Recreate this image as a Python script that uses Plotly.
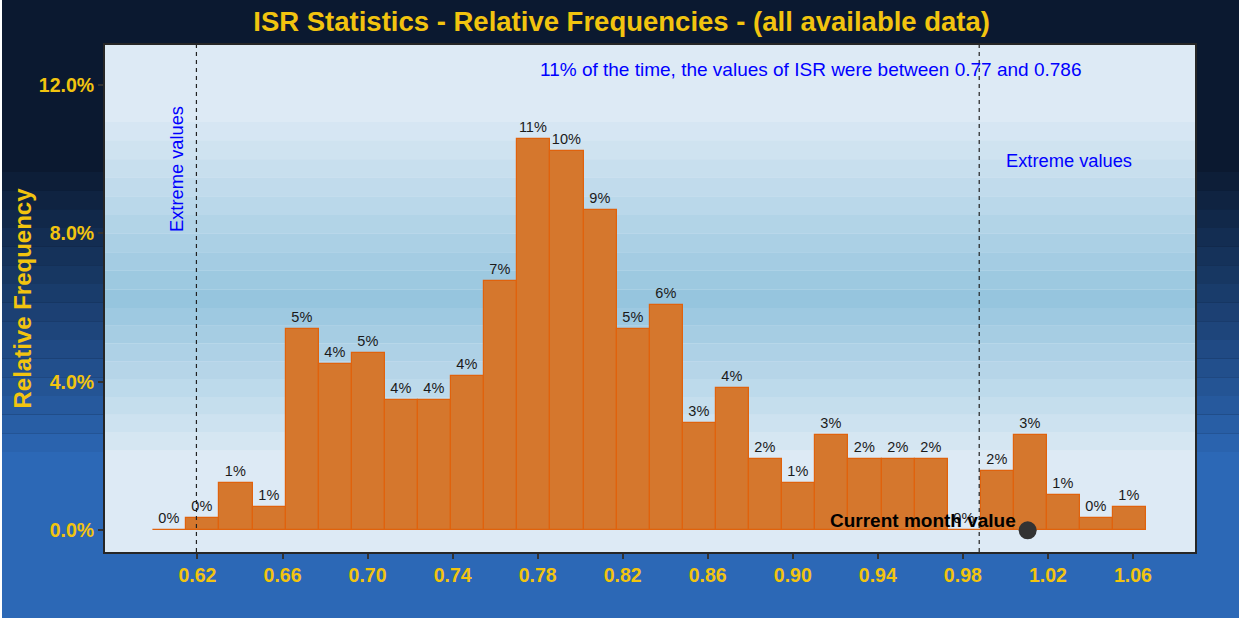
import plotly.graph_objects as go

# ---------------- data ----------------
bin_edges = [0.5992, 0.6148, 0.6303, 0.6459, 0.6615, 0.6771, 0.6926, 0.7082,
             0.7238, 0.7393, 0.7549, 0.7705, 0.7860, 0.8016, 0.8172, 0.8328,
             0.8483, 0.8639, 0.8795, 0.8950, 0.9106, 0.9262, 0.9418, 0.9573,
             0.9729, 0.9885, 1.0040, 1.0196, 1.0352, 1.0507, 1.0663]
rel_freq_pct = [0.00, 0.32, 1.28, 0.64, 5.43, 4.47, 4.79, 3.51, 3.51, 4.15,
                6.71, 10.54, 10.22, 8.63, 5.43, 6.07, 2.88, 3.83, 1.92, 1.28,
                2.56, 1.92, 1.92, 1.92, 0.00, 1.60, 2.56, 0.96, 0.32, 0.64]
bar_labels = [f"{round(v + 1e-9)}%" for v in rel_freq_pct]
lower_extreme = 0.6195
upper_extreme = 0.9877
current_value = 1.0105
x_ticks = [0.62, 0.66, 0.70, 0.74, 0.78, 0.82, 0.86, 0.90, 0.94, 0.98, 1.02, 1.06]
x_tick_labels = ["0.62", "0.66", "0.70", "0.74", "0.78", "0.82", "0.86", "0.90",
                 "0.94", "0.98", "1.02", "1.06"]
y_ticks = [0, 4, 8, 12]
y_tick_labels = ["0.0%", "4.0%", "8.0%", "12.0%"]
title_text = "ISR Statistics - Relative Frequencies - (all available data)"
note_text = "11% of the time, the values of ISR were between 0.77 and 0.786"

centers = [(a + b) / 2 for a, b in zip(bin_edges[:-1], bin_edges[1:])]
widths = [b - a for a, b in zip(bin_edges[:-1], bin_edges[1:])]

# ---------------- layout geometry ----------------
W, H = 1241, 620
ML, MR, MT, MB = 105, 46, 45, 68
PW, PH = W - ML - MR, H - MT - MB


def py(p):  # pixel y -> paper y
    return (H - MB - p) / PH


def px(p):  # pixel x -> paper x
    return (p - ML) / PW


def lerp(c1, c2, t):
    return "rgb(%d,%d,%d)" % tuple(round(a + (b - a) * t) for a, b in zip(c1, c2))


shapes = []
# figure background gradient (stepped)
dark = (11, 25, 48)
bright = (44, 104, 182)
shapes.append(dict(type="rect", xref="paper", yref="paper", x0=px(2), x1=px(W - 2),
                   y0=py(H - 2), y1=py(0), fillcolor=lerp(dark, bright, 0),
                   line=dict(width=0), layer="below"))
g_top, g_bot, nb = 172, 452, 15
step = (g_bot - g_top) / nb
for i in range(nb + 1):
    y0p = g_top + i * step
    y1p = H - 2 if i == nb else y0p + step
    shapes.append(dict(type="rect", xref="paper", yref="paper", x0=px(2), x1=px(W - 2),
                       y0=py(y1p), y1=py(y0p), fillcolor=lerp(dark, bright, (i + 1) / (nb + 1)),
                       line=dict(width=0), layer="below"))

# plot panel gradient (stepped): light -> blue -> light
light = (221, 234, 245)
mid = (150, 197, 222)
shapes.append(dict(type="rect", xref="paper", yref="paper", x0=0, x1=1, y0=0, y1=1,
                   fillcolor=lerp(light, mid, 0), line=dict(width=0), layer="below"))
p_top, p_mid, p_bot = 122, 308, 468
n1, n2 = 10, 9
s1 = (p_mid - p_top) / n1
for i in range(n1):
    a = p_top + i * s1
    shapes.append(dict(type="rect", xref="paper", yref="paper", x0=0, x1=1,
                       y0=py(a + s1), y1=py(a), fillcolor=lerp(light, mid, (i + 1) / n1),
                       line=dict(width=0), layer="below"))
s2 = (p_bot - p_mid) / n2
for i in range(n2):
    a = p_mid + i * s2
    shapes.append(dict(type="rect", xref="paper", yref="paper", x0=0, x1=1,
                       y0=py(a + s2), y1=py(a), fillcolor=lerp(mid, light, (i + 1) / n2),
                       line=dict(width=0), layer="below"))

# extreme value lines
for xv in (lower_extreme, upper_extreme):
    shapes.append(dict(type="line", xref="x", yref="paper", x0=xv, x1=xv, y0=0, y1=1,
                       line=dict(color="#222222", width=1.2, dash="4px,4px"), layer="above"))

fig = go.Figure()
fig.add_trace(go.Bar(
    x=centers, y=rel_freq_pct, width=widths,
    marker=dict(color="#d5772d", line=dict(color="#e0620c", width=1.2)),
    text=bar_labels, textposition="outside", cliponaxis=False, constraintext="none",
    textfont=dict(family="Liberation Sans, Arial", size=14.5, color="#1a1a1a"),
    hoverinfo="skip", showlegend=False,
))
fig.add_trace(go.Scatter(
    x=[current_value], y=[0], mode="markers",
    marker=dict(size=18, color="#333333"), showlegend=False, hoverinfo="skip", cliponaxis=False,
))

gold = "#f2c40f"
annotations = [
    dict(x=-0.0761, y=0.5, xref="paper", yref="paper", text="Relative Frequency",
         textangle=-90, showarrow=False, xanchor="center", yanchor="middle",
         font=dict(size=24, color=gold, weight="bold")),
    dict(x=0.9084, y=12.43, xref="x", yref="y", text=note_text, showarrow=False,
         font=dict(size=19, color="#0000ff")),
    dict(x=1.0297, y=9.96, xref="x", yref="y", text="Extreme values", showarrow=False,
         font=dict(size=18.3, color="#0000ff")),
    dict(x=0.6104, y=9.74, xref="x", yref="y", text="Extreme values", showarrow=False,
         textangle=-90, font=dict(size=18.3, color="#0000ff")),
    dict(x=current_value, y=0, xref="x", yref="y", text="Current month value",
         showarrow=False, xanchor="right", yanchor="middle", xshift=-10, yshift=10,
         font=dict(size=19, color="#000000", weight="bold")),
]

fig.update_layout(
    width=W, height=H,
    margin=dict(l=ML, r=MR, t=MT, b=MB, pad=0),
    paper_bgcolor="white", plot_bgcolor="rgba(0,0,0,0)",
    font=dict(family="Liberation Sans, Arial"),
    title=dict(text=title_text, x=px(651), xanchor="center",
               y=1 - 21 / H, yanchor="middle", font=dict(size=27.5, color=gold, weight="bold")),
    shapes=shapes, annotations=annotations, bargap=0,
    xaxis=dict(range=[0.5765, 1.0892], tickvals=x_ticks, ticktext=x_tick_labels,
               showgrid=False, zeroline=False, showline=True, mirror=True,
               linecolor="#262626", linewidth=2, ticks="outside", ticklen=5,
               tickcolor="#333333", tickwidth=1.5,
               tickfont=dict(size=19.5, color=gold, weight="bold")),
    yaxis=dict(range=[-0.585, 13.08], tickvals=y_ticks, ticktext=y_tick_labels,
               showgrid=False, zeroline=False, showline=True, mirror=True,
               linecolor="#262626", linewidth=2, ticks="outside", ticklen=5,
               tickcolor="#333333", tickwidth=1.5,
               tickfont=dict(size=19.5, color=gold, weight="bold")),
)

fig.write_html("out.html", config={"displayModeBar": False},
               post_script="document.body.style.margin='0';document.body.style.overflow='hidden';")
